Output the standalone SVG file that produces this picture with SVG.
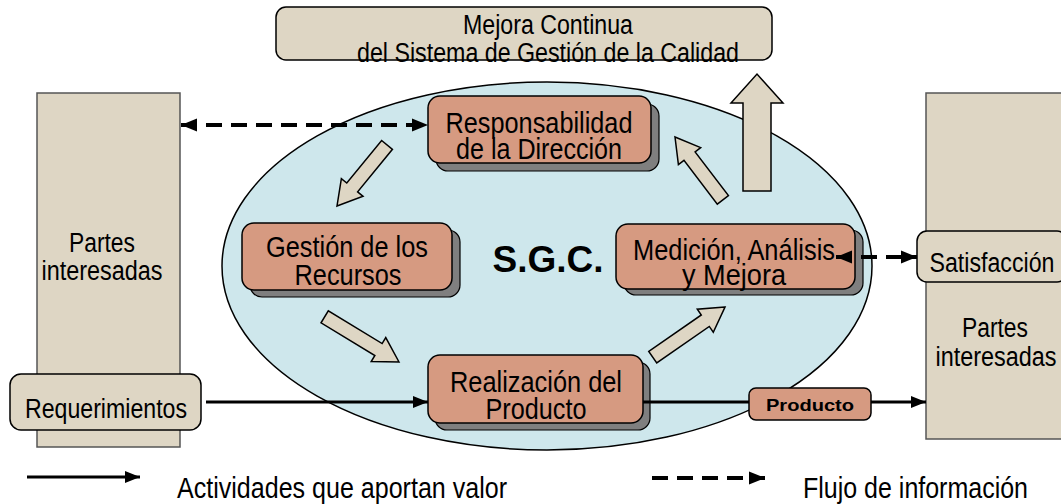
<svg xmlns="http://www.w3.org/2000/svg" width="1061" height="504" viewBox="0 0 1061 504">
<defs>
<style>
.t{font-family:"Liberation Sans",Arial,sans-serif;font-size:27px;fill:#000;text-anchor:middle}
.big{font-size:30px}
.leg{font-size:30px;text-anchor:start}
.tan{fill:#DED6C4;stroke:#000;stroke-width:1.5}
.tanr{fill:#DED6C4;stroke:#555;stroke-width:1.5}
.sal{fill:#D69A81;stroke:#000;stroke-width:1.5}
.sh{fill:#7F7F7F;stroke:#000;stroke-width:1.2}
.ln{stroke:#000;stroke-width:3;fill:none}
.dl{stroke:#000;stroke-width:4;fill:none;stroke-dasharray:16 9}
.blk{fill:#DED6C4;stroke:#000;stroke-width:1.5;stroke-linejoin:miter}
</style>
<marker id="ah" viewBox="0 0 10 10" refX="10" refY="5" markerWidth="5" markerHeight="5" orient="auto-start-reverse" markerUnits="strokeWidth">
<path d="M0,1 L10,5 L0,9 z" fill="#000"/>
</marker>
<marker id="ah2" viewBox="0 0 10 10" refX="10" refY="5" markerWidth="4" markerHeight="4" orient="auto-start-reverse" markerUnits="strokeWidth">
<path d="M0,1 L10,5 L0,9 z" fill="#000"/>
</marker>
</defs>
<rect width="1061" height="504" fill="#fff"/>

<g id="partes-izq">
<rect class="tanr" x="37" y="93" width="143" height="354"/>
<text class="t" x="102" y="252" textLength="66" lengthAdjust="spacingAndGlyphs">Partes</text>
<text class="t" x="102" y="280" textLength="121" lengthAdjust="spacingAndGlyphs">interesadas</text>
</g>
<g id="partes-der">
<rect class="tanr" x="926" y="93" width="140" height="346"/>
<text class="t" x="995" y="337" textLength="66" lengthAdjust="spacingAndGlyphs">Partes</text>
<text class="t" x="996" y="366" textLength="121" lengthAdjust="spacingAndGlyphs">interesadas</text>
</g>

<g id="sgc">
<ellipse cx="547" cy="266" rx="325" ry="184" fill="#CEE7EC" stroke="#000" stroke-width="1.5"/>
<text x="548" y="272" style="font-family:'Liberation Sans',Arial,sans-serif;font-weight:bold;font-size:37px;text-anchor:middle">S.G.C.</text>
</g>

<g id="mejora-continua">
<rect class="tan" x="276" y="7" width="496" height="53" rx="10"/>
<text class="t" x="548" y="34" textLength="170" lengthAdjust="spacingAndGlyphs">Mejora Continua</text>
<text class="t" x="548" y="62" textLength="382" lengthAdjust="spacingAndGlyphs">del Sistema de Gestión de la Calidad</text>
</g>

<g id="flecha-mejora">
<polygon class="blk" points="743,191 743,103 731,103 757,74 783,103 771,103 771,191"/>
</g>

<g id="responsabilidad">
<rect class="sh" x="436" y="104" width="223" height="67" rx="12"/>
<rect class="sal" x="428" y="96" width="223" height="67" rx="12"/>
<text class="t big" x="539" y="133" textLength="187" lengthAdjust="spacingAndGlyphs">Responsabilidad</text>
<text class="t big" x="539" y="159" textLength="166" lengthAdjust="spacingAndGlyphs">de la Dirección</text>
</g>

<g id="gestion">
<rect class="sh" x="250" y="230" width="210" height="67" rx="12"/>
<rect class="sal" x="242" y="223" width="210" height="67" rx="12"/>
<text class="t big" x="347" y="257" textLength="162" lengthAdjust="spacingAndGlyphs">Gestión de los</text>
<text class="t big" x="348" y="285" textLength="107" lengthAdjust="spacingAndGlyphs">Recursos</text>
</g>

<g id="medicion">
<rect class="sh" x="624" y="230" width="239" height="65" rx="12"/>
<rect class="sal" x="616" y="224" width="239" height="65" rx="12"/>
<text class="t big" x="734" y="260" textLength="202" lengthAdjust="spacingAndGlyphs">Medición, Análisis</text>
<text class="t big" x="734" y="285" textLength="104" lengthAdjust="spacingAndGlyphs">y  Mejora</text>
</g>

<g id="realizacion">
<rect class="sh" x="435" y="362" width="215" height="68" rx="12"/>
<rect class="sal" x="428" y="355" width="215" height="68" rx="12"/>
<text class="t big" x="536" y="392" textLength="172" lengthAdjust="spacingAndGlyphs">Realización del</text>
<text class="t big" x="536" y="419" textLength="101" lengthAdjust="spacingAndGlyphs">Producto</text>
</g>

<g id="requerimientos">
<rect class="tan" x="10" y="374" width="191" height="56" rx="11"/>
<text class="t" x="106" y="418" textLength="162" lengthAdjust="spacingAndGlyphs">Requerimientos</text>
</g>

<g id="satisfaccion">
<rect class="tan" x="917" y="231" width="150" height="51" rx="10"/>
<text class="t" x="992" y="272" textLength="125" lengthAdjust="spacingAndGlyphs">Satisfacción</text>
</g>

<g id="connectors">
<line class="ln" x1="206" y1="402" x2="428" y2="402" marker-end="url(#ah)"/>
<line class="ln" x1="643" y1="402" x2="749" y2="402"/>
<line class="ln" x1="871" y1="402" x2="926" y2="402" marker-end="url(#ah)"/>
<line class="dl" x1="181" y1="125" x2="428" y2="125" marker-start="url(#ah2)" marker-end="url(#ah2)"/>
<line class="dl" x1="836" y1="257" x2="917" y2="257" marker-start="url(#ah2)" marker-end="url(#ah2)"/>
<polygon class="blk" transform="translate(337,206) rotate(129.3)" points="0,0 -24,-14 -24,-7 -79,-7 -79,7 -24,7 -24,14"/>
<polygon class="blk" transform="translate(399,362) rotate(31.3)" points="0,0 -24,-14 -24,-7 -87,-7 -87,7 -24,7 -24,14"/>
<polygon class="blk" transform="translate(725,307) rotate(-34.8)" points="0,0 -24,-14 -24,-7 -88,-7 -88,7 -24,7 -24,14"/>
<polygon class="blk" transform="translate(675,137) rotate(-127.3)" points="0,0 -24,-14 -24,-7 -79,-7 -79,7 -24,7 -24,14"/>
</g>

<g id="producto">
<rect class="sal" x="749" y="388" width="122" height="32" rx="7"/>
<text x="810" y="411" textLength="88" lengthAdjust="spacingAndGlyphs" style="font-family:'Liberation Sans',Arial,sans-serif;font-weight:bold;font-size:17px;text-anchor:middle">Producto</text>
</g>

<g id="leyenda">
<line class="ln" x1="27" y1="477" x2="140" y2="477" marker-end="url(#ah)"/>
<text class="t leg" x="177" y="498" textLength="330" lengthAdjust="spacingAndGlyphs">Actividades que aportan valor</text>
<line class="dl" x1="652" y1="478" x2="765" y2="478" stroke-dasharray="22 14" marker-end="url(#ah2)"/>
<text class="t leg" x="803" y="498" textLength="225" lengthAdjust="spacingAndGlyphs">Flujo de información</text>
</g>
</svg>
